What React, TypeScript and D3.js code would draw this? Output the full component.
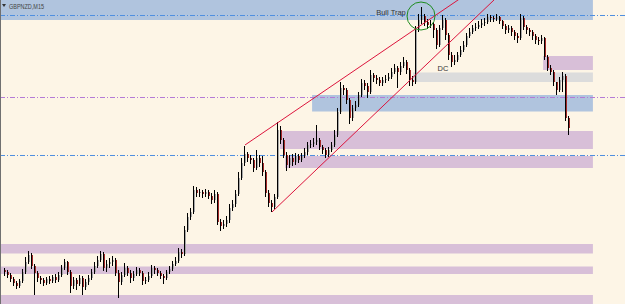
import React from 'react';
import * as d3 from 'd3';

const W = 625;
const H = 304;

const firstOpen = 1.943;
const closes = [
1.9428,1.9425,1.9421,1.9417,1.9414,1.9419,1.9428,1.9438,1.9445,1.9434,
1.9427,1.9422,1.9420,1.9417,1.9421,1.9419,1.9423,1.9420,1.9425,1.9432,
1.9438,1.9428,1.9414,1.9420,1.9416,1.9422,1.9413,1.9418,1.9422,1.9428,
1.9434,1.9440,1.9446,1.9432,1.9436,1.9438,1.9440,1.9427,1.9418,1.9425,
1.9432,1.9427,1.9422,1.9426,1.9430,1.9427,1.9419,1.9420,1.9424,1.9432,
1.9430,1.9427,1.9424,1.9422,1.9428,1.9431,1.9436,1.9439,1.9448,1.9446,
1.9470,1.9483,1.9488,1.9510,1.9507,1.9508,1.9506,1.9508,1.9504,1.9500,
1.9506,1.9478,1.9474,1.9476,1.9480,1.9492,1.9496,1.9506,1.9522,1.9537,
1.9546,1.9542,1.9540,1.9532,1.9542,1.9537,1.9528,1.9507,1.9497,1.9493,
1.9503,1.9570,1.9560,1.9545,1.9535,1.9542,1.9538,1.9544,1.9540,1.9544,
1.9548,1.9555,1.9556,1.9558,1.9560,1.9553,1.9550,1.9545,1.9550,1.9555,
1.9565,1.9588,1.9612,1.9610,1.9600,1.9582,1.9592,1.9595,1.9605,1.9617,
1.9614,1.9608,1.9625,1.9622,1.9620,1.9617,1.9620,1.9621,1.9623,1.9628,
1.9632,1.9628,1.9634,1.9638,1.9630,1.9620,1.9618,1.9670,1.9680,1.9684,
1.9678,1.9675,1.9676,1.9670,1.9655,1.9672,1.9680,1.9665,1.9645,1.9638,
1.9640,1.9645,1.9650,1.9655,1.9664,1.9668,1.9672,1.9673,1.9675,1.9677,
1.9678,1.9683,1.9682,1.9681,1.9683,1.9679,1.9674,1.9670,1.9672,1.9668,
1.9664,1.9662,1.9682,1.9673,1.9670,1.9668,1.9664,1.9660,1.9659,1.9662,
1.9643,1.9632,1.9628,1.9618,1.9610,1.9620,1.9624,1.9582,1.9572];

const highs = [
1.9432,1.9430,1.9427,1.9423,1.9419,1.9421,1.9431,1.9443,1.9449,1.9447,
1.9436,1.9429,1.9424,1.9422,1.9423,1.9424,1.9425,1.9426,1.9428,1.9435,
1.9441,1.9439,1.9430,1.9423,1.9422,1.9425,1.9424,1.9421,1.9425,1.9431,
1.9438,1.9444,1.9449,1.9448,1.9440,1.9442,1.9444,1.9442,1.9430,1.9428,
1.9437,1.9434,1.9430,1.9429,1.9433,1.9432,1.9429,1.9423,1.9428,1.9435,
1.9434,1.9432,1.9429,1.9426,1.9430,1.9434,1.9439,1.9443,1.9452,1.9451,
1.9474,1.9487,1.9492,1.9514,1.9513,1.9511,1.9510,1.9511,1.9510,1.9507,
1.9510,1.9508,1.9481,1.9480,1.9484,1.9496,1.9500,1.9510,1.9528,1.9542,
1.9554,1.9548,1.9545,1.9542,1.9550,1.9545,1.9544,1.9530,1.9510,1.9500,
1.9506,1.9578,1.9574,1.9562,1.9548,1.9545,1.9546,1.9547,1.9546,1.9547,
1.9552,1.9558,1.9560,1.9562,1.9575,1.9562,1.9555,1.9552,1.9553,1.9558,
1.9570,1.9592,1.9618,1.9615,1.9612,1.9602,1.9595,1.9599,1.9608,1.9621,
1.9620,1.9617,1.9630,1.9627,1.9625,1.9623,1.9623,1.9625,1.9627,1.9632,
1.9636,1.9634,1.9638,1.9643,1.9640,1.9632,1.9624,1.9674,1.9686,1.9693,
1.9686,1.9681,1.9680,1.9678,1.9672,1.9675,1.9685,1.9682,1.9667,1.9648,
1.9645,1.9648,1.9654,1.9659,1.9667,1.9672,1.9675,1.9677,1.9679,1.9681,
1.9682,1.9686,1.9685,1.9684,1.9686,1.9684,1.9680,1.9676,1.9675,1.9674,
1.9670,1.9667,1.9686,1.9684,1.9675,1.9672,1.9670,1.9666,1.9663,1.9665,
1.9663,1.9645,1.9635,1.9630,1.9618,1.9623,1.9628,1.9626,1.9584];

const lows = [
1.9424,1.9422,1.9418,1.9414,1.9411,1.9412,1.9417,1.9426,1.9436,1.9431,
1.9405,1.9418,1.9416,1.9414,1.9415,1.9416,1.9417,1.9417,1.9418,1.9423,
1.9430,1.9425,1.9407,1.9411,1.9410,1.9414,1.9405,1.9410,1.9415,1.9420,
1.9426,1.9432,1.9438,1.9429,1.9428,1.9432,1.9434,1.9424,1.9402,1.9415,
1.9423,1.9424,1.9417,1.9419,1.9424,1.9424,1.9415,1.9416,1.9418,1.9422,
1.9426,1.9424,1.9421,1.9416,1.9420,1.9426,1.9429,1.9434,1.9437,1.9442,
1.9444,1.9468,1.9480,1.9486,1.9503,1.9503,1.9502,1.9503,1.9501,1.9496,
1.9497,1.9475,1.9469,1.9471,1.9473,1.9477,1.9489,1.9493,1.9504,1.9520,
1.9534,1.9538,1.9536,1.9528,1.9530,1.9533,1.9524,1.9503,1.9493,1.9488,
1.9491,1.9501,1.9556,1.9542,1.9529,1.9532,1.9534,1.9535,1.9537,1.9538,
1.9542,1.9545,1.9552,1.9553,1.9555,1.9550,1.9546,1.9542,1.9543,1.9548,
1.9553,1.9563,1.9586,1.9605,1.9596,1.9576,1.9579,1.9589,1.9593,1.9603,
1.9610,1.9602,1.9606,1.9618,1.9616,1.9614,1.9614,1.9617,1.9619,1.9621,
1.9626,1.9612,1.9625,1.9632,1.9626,1.9614,1.9614,1.9616,1.9668,1.9676,
1.9674,1.9671,1.9672,1.9662,1.9651,1.9653,1.9670,1.9660,1.9640,1.9633,
1.9635,1.9638,1.9643,1.9648,1.9653,1.9662,1.9666,1.9669,1.9671,1.9672,
1.9674,1.9676,1.9678,1.9678,1.9679,1.9676,1.9671,1.9666,1.9667,1.9664,
1.9660,1.9657,1.9660,1.9670,1.9666,1.9664,1.9660,1.9656,1.9655,1.9656,
1.9640,1.9629,1.9625,1.9614,1.9605,1.9608,1.9608,1.9579,1.9565];

// zones: start bar, end bar, top price, bottom price, kind
const zoneStart = [-1.4, 179.7, 136.3, 102.7, 92, 93.7, -1.4, -1.4, -1.4];
const zoneEnd = [196.3, 196.3, 196.3, 196.3, 196.3, 196.3, 196.3, 196.3, 196.3];
const zoneTop = [1.9700, 1.9644, 1.96275, 1.9605, 1.9569, 1.9544, 1.9456, 1.94335, 1.9405];
const zoneBottom = [1.9680, 1.9630, 1.9618, 1.95885, 1.9551, 1.9532, 1.94465, 1.9426, 1.9390];
const zoneKind = ['blue', 'purple', 'gray', 'blue', 'purple', 'purple', 'purple', 'purple', 'purple'];

// horizontal levels
const levelPrice = [1.9685, 1.9603, 1.95447];
const levelKind = ['blue', 'purple', 'blue'];

// trend lines: from (bar, price) to (bar, price)
const trendFromBar = [80.33, 89.33];
const trendFromPrice = [1.9555, 1.9488];
const trendToBar = [151.33, 163.33];
const trendToPrice = [1.9700, 1.9700];

const circleBar = 139;
const circlePrice = 1.9684;

const labels = ['Bull Trap', 'DC'];
const labelBar = [129, 146.3];
const labelPrice = [1.9687, 1.9631];

const title = 'GBPNZD,M15';

const zoneColor: Record<string, string> = { blue: '#B0C4DE', purple: '#D8BFD8', gray: '#DCDCDC' };
const levelColor: Record<string, string> = { blue: '#4F8FE0', purple: '#B57BD6' };

export default function App() {
  const x = d3.scaleLinear().domain([0, closes.length - 1]).range([4, 568]);
  const y = d3.scaleLinear().domain([1.97, 1.9396]).range([0, H]);
  const opens = closes.map((c, i) => (i === 0 ? firstOpen : closes[i - 1]));

  const line = d3.line<[number, number]>().x(d => x(d[0])).y(d => y(d[1]));

  return (
    <svg width={W} height={H} style={{ position: 'absolute', left: 0, top: 0, display: 'block' }}
      fontFamily="'Liberation Sans', Arial, sans-serif">
      <defs>
        <clipPath id="plot"><rect x={0} y={0} width={W} height={H} /></clipPath>
      </defs>
      <rect x={0} y={0} width={W} height={H} fill="#FDF5E6" />
      {zoneStart.map((s, i) => (
        <rect key={'z' + i} x={x(s)} width={x(zoneEnd[i]) - x(s)} y={y(zoneTop[i])}
          height={y(zoneBottom[i]) - y(zoneTop[i])} fill={zoneColor[zoneKind[i]]} />
      ))}
      {levelPrice.map((p, i) => (
        <line key={'l' + i} x1={0} x2={W} y1={Math.round(y(p)) + 0.5} y2={Math.round(y(p)) + 0.5}
          stroke={levelColor[levelKind[i]]} strokeWidth={1} strokeDasharray="5,2,1,2" shapeRendering="crispEdges" />
      ))}
      <g shapeRendering="crispEdges">
        {closes.map((c, i) => {
          const o = opens[i];
          const cx = Math.round(x(i));
          const top = y(Math.max(o, c));
          const bot = y(Math.min(o, c));
          const hi = y(Math.max(highs[i], o, c));
          const lo = y(Math.min(lows[i], o, c));
          const bull = c >= o;
          return (
            <g key={'c' + i}>
              <rect x={cx} y={top} width={2} height={Math.max(1, bot - top)} fill={bull ? '#A8A8A8' : '#A52A2A'} />
              <line x1={cx + 0.5} x2={cx + 0.5} y1={hi} y2={lo} stroke="#000" strokeWidth={1} />
            </g>
          );
        })}
      </g>
      <g clipPath="url(#plot)">
        {trendFromBar.map((b, i) => {
          const x0 = b, p0 = trendFromPrice[i];
          const slope = (trendToPrice[i] - p0) / (trendToBar[i] - b);
          const x1 = trendToBar[i] + 5;
          const p1 = p0 + slope * (x1 - x0);
          return (
            <path key={'t' + i} d={line([[x0, p0], [x1, p1]]) || ''} stroke="#DC143C" strokeWidth={1} fill="none" />
          );
        })}
      </g>
      <circle cx={x(circleBar)} cy={y(circlePrice)} r={14} fill="none" stroke="#1E8C1E" strokeWidth={1} />
      {labels.map((t, i) => (
        <text key={'t' + i} x={x(labelBar[i])} y={y(labelPrice[i])} fontSize={7.5} fill="#333"
          textAnchor="middle" dominantBaseline="middle">{t}</text>
      ))}
      <path d="M2,4 L6,4 L4,7 Z" fill="#333" />
      <text x={9} y={9} fontSize={7.5} fill="#444" textLength={35} lengthAdjust="spacingAndGlyphs">{title}</text>
      <line x1={0.5} x2={0.5} y1={0} y2={H} stroke="#707070" strokeWidth={1} />
    </svg>
  );
}
